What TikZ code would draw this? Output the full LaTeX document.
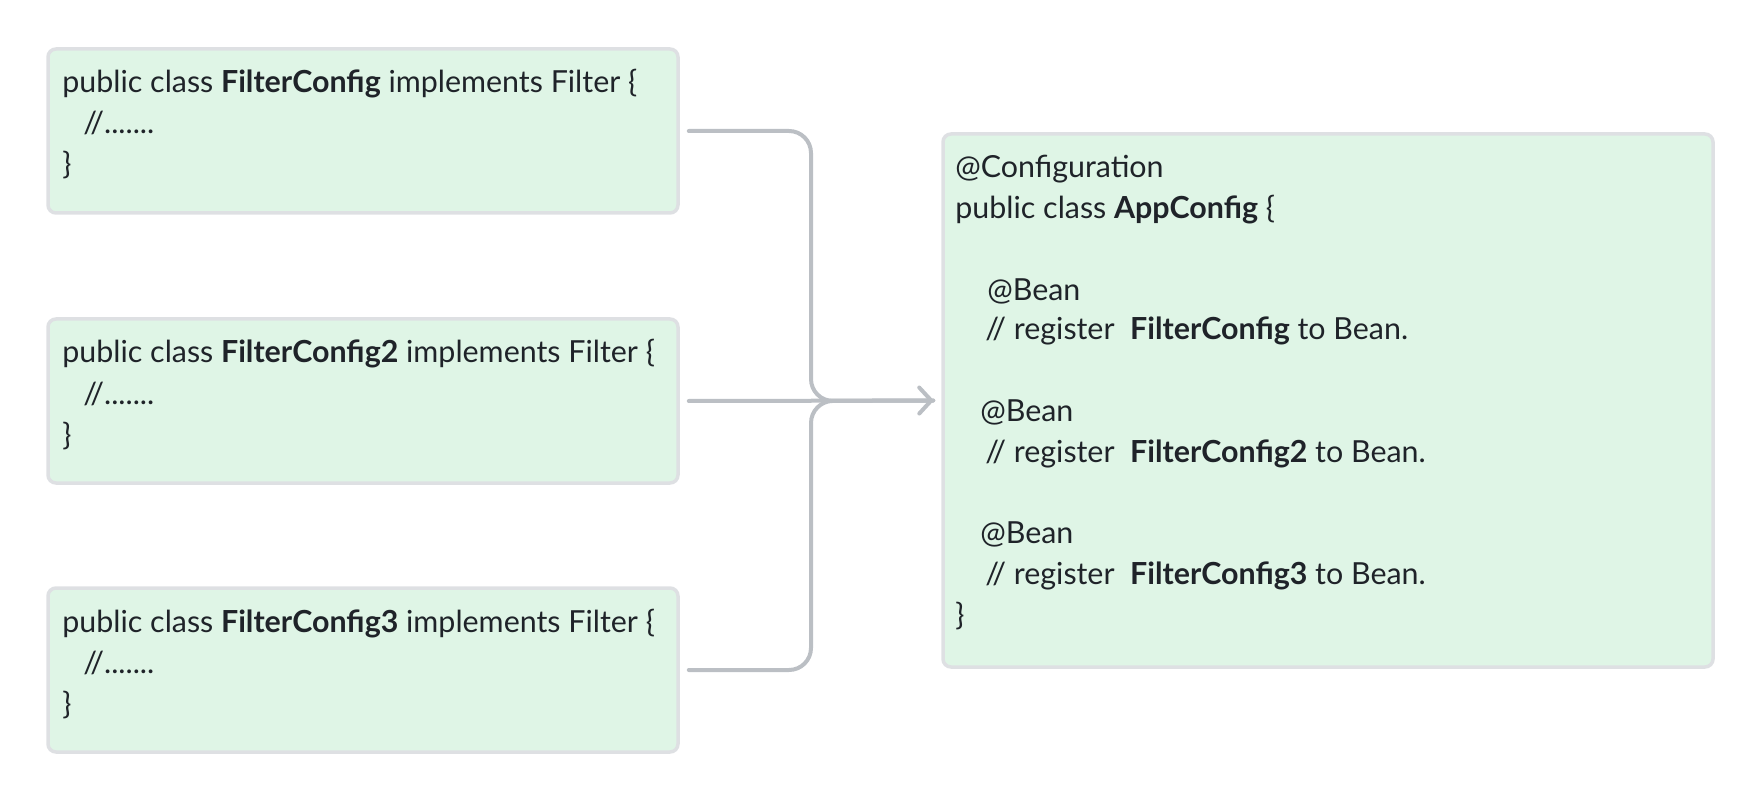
\documentclass[tikz,border=0pt]{standalone}
\usepackage{fontspec}
\setmainfont{Lato}
\usetikzlibrary{arrows.meta}
\definecolor{boxfill}{HTML}{DFF5E6}
\definecolor{boxline}{HTML}{DEE0E3}
\definecolor{connc}{HTML}{BBBFC4}
\definecolor{ink}{HTML}{1F2329}
\begin{document}
\begin{tikzpicture}[x=0.5pt,y=-0.5pt,
  box/.style={draw=boxline, fill=boxfill, line width=1.75pt, rounded corners=4pt, inner sep=0pt},
  txt/.style={anchor=base west, inner sep=0pt, text=ink, font=\fontsize{15.2}{19}\selectfont},
  link/.style={draw=connc, line width=2pt, rounded corners=11pt, line cap=round, line join=round},
]
\useasboundingbox (0,0) rectangle (1762,802);
\node[box, minimum width=315pt, minimum height=82pt] (b1) at (363,131) {};
\node[box, minimum width=315pt, minimum height=82pt] (b2) at (363,401) {};
\node[box, minimum width=315pt, minimum height=82pt] (b3) at (363,670) {};
\node[box, minimum width=385pt, minimum height=266.5pt] (app) at (1328,400.5) {};

\node[txt] (t1a) at (62,93) {public class \textbf{FilterConfig} implements Filter \{};
\node[txt] (t1b) at (83,134) {//.......};
\node[txt] (t1c) at (62,175) {\}};
\node[txt] (t2a) at (62,363) {public class \textbf{FilterConfig2} implements Filter \{};
\node[txt] (t2b) at (83,404) {//.......};
\node[txt] (t2c) at (62,445) {\}};
\node[txt] (t3a) at (62,632) {public class \textbf{FilterConfig3} implements Filter \{};
\node[txt] (t3b) at (83,673) {//.......};
\node[txt] (t3c) at (62,714) {\}};

\node[txt] (a0) at (955,178) {@Configuration};
\node[txt] (a1) at (955,219) {public class \textbf{AppConfig} \{};
\node[txt] (a3) at (987,300) {@Bean};
\node[txt] (a4) at (985,340) {// register\ \ \textbf{FilterConfig} to Bean.};
\node[txt] (a6) at (980,422) {@Bean};
\node[txt] (a7) at (985,462) {// register\ \ \textbf{FilterConfig2} to Bean.};
\node[txt] (a9) at (980,543) {@Bean};
\node[txt] (a10) at (985,584) {// register\ \ \textbf{FilterConfig3} to Bean.};
\node[txt] (a11) at (955,625) {\}};

\coordinate (m) at (811,401);
\draw[link] ([xshift=4.5pt]b1.east) -| (m) -- ([xshift=-4pt]app.west);
\draw[link] ([xshift=4.5pt]b3.east) -| (m) -- ([xshift=-4pt]app.west);
\draw[link, -{Straight Barb[length=6pt,width=13pt,line cap=round,line join=round]}] ([xshift=4.5pt]b2.east) -- ([xshift=-4pt]app.west);
\end{tikzpicture}
\end{document}
